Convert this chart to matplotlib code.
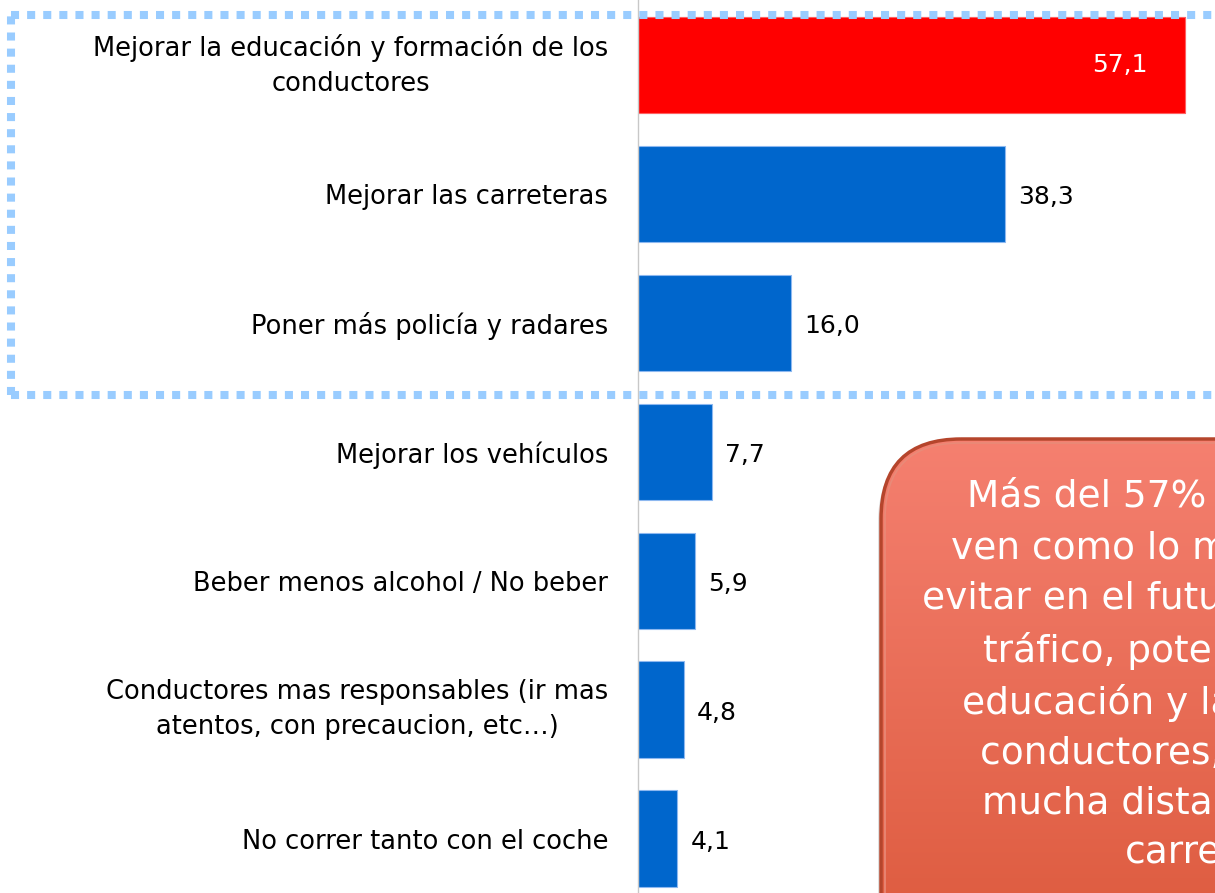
import numpy as np
import matplotlib
matplotlib.use("Agg")
import matplotlib.pyplot as plt
from matplotlib.patches import FancyBboxPatch

# survey answers (percent), top to bottom
categories = [
    "Mejorar la educación y formación de los\nconductores",
    "Mejorar las carreteras",
    "Poner más policía y radares",
    "Mejorar los vehículos",
    "Beber menos alcohol / No beber",
    "Conductores mas responsables (ir mas\natentos, con precaucion, etc…)",
    "No correr tanto con el coche",
]
values = [57.1, 38.3, 16.0, 7.7, 5.9, 4.8, 4.1]
barColors = ["#FF0000", "#0066CC", "#0066CC", "#0066CC", "#0066CC", "#0066CC", "#0066CC"]

# callout text (right part is cut off by the slide edge)
calloutLines = [
    "Más del 57% de los jóvenes",
    "ven como lo más importante,",
    "evitar en el futuro accidentes de",
    "tráfico, potenciar mejor la",
    "educación y la formación de",
    "conductores, seguido ya a",
    "mucha distancia, el de las",
    "carreteras.",
]

W, H = 1215, 893
fig = plt.figure(figsize=(W / 100, H / 100), dpi=100)
fig.patch.set_facecolor("white")

# main bar axes, left edge at the vertical axis line
ax = fig.add_axes([638 / W, 0, (W - 638) / W, 1])
yPos = np.arange(len(values))
ax.barh(yPos, values, height=0.75, color=barColors, edgecolor="#8DB8F0", linewidth=0.8, zorder=2)
ax.barh(0, values[0], height=0.75, color=barColors[0], edgecolor="#FF6060", linewidth=0.8, zorder=2)
ax.set_xlim(0, 60.2)
ax.set_ylim(6.42, -0.504)

ax.set_yticks(yPos)
ax.set_yticklabels(categories, fontsize=18.5, color="black")
for lbl in ax.get_yticklabels():
    lbl.set_multialignment("center")
    lbl.set_linespacing(1.45)
    if "\n" in lbl.get_text():
        lbl.set_verticalalignment("center")
ax.tick_params(axis="y", length=0, pad=21.5)
ax.set_xticks([])
for side in ["top", "right", "bottom"]:
    ax.spines[side].set_visible(False)
ax.spines["left"].set_color("#C8C8C8")
ax.spines["left"].set_linewidth(1.0)

for i, v in enumerate(values):
    txt = f"{v:.1f}".replace(".", ",")
    if i == 0:
        ax.annotate(txt, (v, i), xytext=(-27, 0), textcoords="offset points",
                    ha="right", va="center", fontsize=18, color="white", zorder=3)
    else:
        ax.annotate(txt, (v, i), xytext=(9.5, -2.5), textcoords="offset points",
                    ha="left", va="center", fontsize=18, color="black", zorder=3)

# overlay in pixel units for the dotted frame and the callout
ov = fig.add_axes([0, 0, 1, 1], zorder=5)
ov.set_xlim(0, W)
ov.set_ylim(H, 0)
ov.axis("off")
ov.patch.set_alpha(0)

dotStyle = dict(color="#99CCFF", lw=5.8, linestyle=(0, (1, 1)), dash_capstyle="butt")
ov.plot([11, 11], [395, 15], **dotStyle)
ov.plot([11, 1240], [15, 15], **dotStyle)
ov.plot([11, 1240], [395, 395], **dotStyle)

# callout box with vertical gradient
boxX, boxY, boxW, boxH = 881, 439, 700, 560
shadow = FancyBboxPatch((boxX - 3, boxY + 4), boxW, boxH, boxstyle="round,pad=0,rounding_size=80",
                        facecolor="#000000", alpha=0.12, edgecolor="none", zorder=1)
ov.add_patch(shadow)
box = FancyBboxPatch((boxX, boxY), boxW, boxH, boxstyle="round,pad=0,rounding_size=80",
                     facecolor="none", edgecolor="#B5452C", linewidth=2.5, zorder=3)
ov.add_patch(box)
top = np.array([245, 128, 112]) / 255
bot = np.array([218, 86, 56]) / 255
t = np.linspace(0, 1, 256)[:, None]
grad = (top[None, :] * (1 - t) + bot[None, :] * t)[:, None, :]
img = ov.imshow(grad, extent=[boxX, boxX + boxW, boxY + boxH, boxY], aspect="auto", zorder=2,
                interpolation="bilinear")
img.set_clip_path(box)
inner = FancyBboxPatch((boxX + 4, boxY + 4), boxW - 8, boxH - 8, boxstyle="round,pad=0,rounding_size=76",
                       facecolor="none", edgecolor="#E98A78", linewidth=1.2, zorder=3)
ov.add_patch(inner)

ov.text(1227, 674, "\n".join(calloutLines), ha="center", va="center", ma="center",
        fontsize=27, color="white", linespacing=1.49, zorder=4)

ov.set_xlim(0, W)
ov.set_ylim(H, 0)

plt.savefig("out.png", dpi=100)
plt.close()
